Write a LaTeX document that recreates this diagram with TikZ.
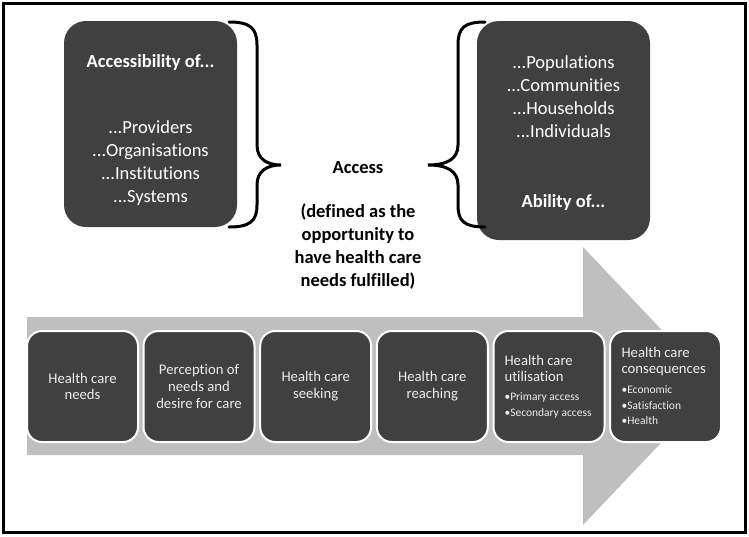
\documentclass[tikz,border=0pt]{standalone}
\usepackage{fontspec}
\setmainfont{Carlito}[Ligatures=NoCommon]
\usepackage{tikz}
\usepackage{xcolor}
\definecolor{boxdark}{HTML}{404040}
\definecolor{arrowgray}{HTML}{BFBFBF}
\definecolor{boxtext}{HTML}{EDEDED}
\tikzset{>=latex}

\begin{document}
\begin{tikzpicture}[x=1pt, y=-1pt,
    bigbox/.style={fill=boxdark, rounded corners=22pt, minimum width=173pt, inner sep=0pt},
    bigtext/.style={text=white, align=center, font=\fontsize{18.5}{23}\selectfont},
    stepbox/.style={fill=boxdark, draw=white, line width=2pt, rounded corners=15pt,
      minimum width=111pt, minimum height=111pt, inner sep=0pt},
    steptext/.style={text=boxtext, align=center, font=\fontsize{14.7}{16.8}\selectfont},
    bullettext/.style={text=boxtext, align=left, font=\fontsize{11.5}{15.5}\selectfont},
    brace/.style={line width=3pt, line cap=round}]
  \useasboundingbox (0,0) rectangle (749,536);
  \draw[line width=3pt] (3,3) rectangle (745,532);

  % big arrow behind the steps
  \fill[arrowgray] (27,317) -- (583,317) -- (583,247) -- (715,386)
        -- (583,525) -- (583,455) -- (27,455) -- cycle;

  \begin{scope}
    \node[bigbox, minimum height=206pt] (supply) at (150.5,124) {};
    \node[bigtext, font=\fontsize{18.5}{23}\selectfont\bfseries] (supplytitle) at (150.5,62) {Accessibility of...};
    \node[bigtext] (supplylist) at (150.5,163) {...Providers\\...Organisations\\...Institutions\\...Systems};
    \draw[brace] (229,22) .. controls (250,22) and (257,28) .. (257,45) -- (257,145)
          .. controls (257,159) and (267,165) .. (281,165)
          .. controls (267,165) and (257,171) .. (257,185) -- (257,205)
          .. controls (257,221) and (250,227) .. (229,227);
  \end{scope}

  \begin{scope}
    \node[bigbox, minimum height=219pt] (demand) at (563.5,130.5) {};
    \node[bigtext] (demandlist) at (563.5,96.5) {...Populations\\...Communities\\...Households\\...Individuals};
    \node[bigtext, font=\fontsize{18.5}{23}\selectfont\bfseries] (demandtitle) at (563.5,202) {Ability of...};
    \draw[brace] (485,22) .. controls (464,22) and (458,28) .. (458,45) -- (458,145)
          .. controls (458,159) and (447,165) .. (428,165)
          .. controls (447,165) and (458,171) .. (458,185) -- (458,205)
          .. controls (458,221) and (464,227) .. (485,227);
  \end{scope}

  \node[font=\fontsize{18.5}{23}\selectfont\bfseries] (access) at (358,168) {Access};
  \node[align=center, font=\fontsize{18.5}{23}\selectfont\bfseries] (accessdef) at (358,247)
    {(defined as the\\opportunity to\\have health care\\needs fulfilled)};

  \begin{scope}
    \node[stepbox] (needs) at (82.5,386.5) {};
    \node[steptext] (needstext) at (82.5,386.5) {Health care\\needs};
    \node[stepbox] (perception) at (199,386.5) {};
    \node[steptext] (perceptiontext) at (199,386.5) {Perception of\\needs and\\desire for care};
    \node[stepbox] (seeking) at (315.7,386.5) {};
    \node[steptext] (seekingtext) at (315.7,386.5) {Health care\\seeking};
    \node[stepbox] (reaching) at (432.3,386.5) {};
    \node[steptext] (reachingtext) at (432.3,386.5) {Health care\\reaching};
    \node[stepbox] (utilisation) at (549,386.5) {};
    \node[steptext, align=left, anchor=west] (utiltitle) at (501,368.5) {Health care\\utilisation};
    \node[bullettext, anchor=west] (utilbullets) at (501,405.5) {•Primary access\\•Secondary access};
    \node[stepbox] (consequences) at (665.5,386.5) {};
    \node[steptext, align=left, anchor=west] (consqtitle) at (618,361.5) {Health care\\consequences};
    \node[bullettext, anchor=west] (consqbullets) at (618,405.5) {•Economic\\•Satisfaction\\•Health};
  \end{scope}
\end{tikzpicture}
\end{document}
